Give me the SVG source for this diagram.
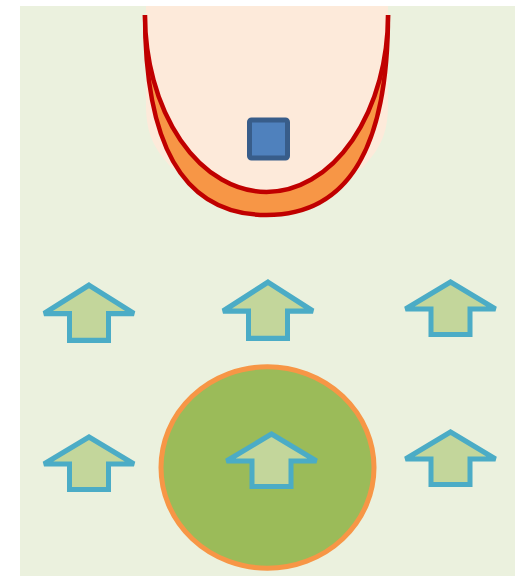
<svg xmlns="http://www.w3.org/2000/svg" width="517" height="576" viewBox="0 0 517 576">
  <style>
    .arrow { fill: #C3D69B; stroke: #4BACC6; stroke-width: 5; stroke-linejoin: miter; stroke-miterlimit: 2; }
    .cup { stroke: #C00000; stroke-width: 4.5; }
  </style>
  <defs>
    <!-- up arrow, origin at the outer tip -->
    <path id="up-arrow" class="arrow" d="M0,3 L45,30 L19.5,30 L19.5,55.5 L-19.5,55.5 L-19.5,30 L-45,30 Z"/>
  </defs>

  <!-- page background -->
  <rect x="20" y="6" width="495" height="570" fill="#EBF1DE"/>

  <!-- cup shape at the top -->
  <g id="cup">
    <path d="M146,6 V105 C146,135 155,150 172,168 L267,200 L362,168 C379,150 388,135 388,105 V6 Z" fill="#FDEADA"/>
    <path class="cup" d="M145,15 C145,140 180,215 266.5,215 C353,215 388,140 388,15" fill="#F79646"/>
    <path class="cup" d="M145,15 A121.5,177 0 0 0 388,15" fill="#FDEADA"/>
  </g>

  <!-- blue square -->
  <g id="square">
    <rect x="249.5" y="120" width="38" height="38" rx="2" fill="#4F81BD" stroke="#385D8A" stroke-width="5"/>
  </g>

  <!-- green disc -->
  <g id="disc">
    <ellipse cx="267.5" cy="467.5" rx="106.5" ry="100.7" fill="#9BBB59" stroke="#F79646" stroke-width="5"/>
  </g>

  <!-- arrows -->
  <g id="arrow-1"><use href="#up-arrow" transform="translate(89,282) scale(1,1.05)"/></g>
  <g id="arrow-2"><use href="#up-arrow" transform="translate(268,279) scale(1,1.07)"/></g>
  <g id="arrow-3"><use href="#up-arrow" transform="translate(450.5,279)"/></g>
  <g id="arrow-4"><use href="#up-arrow" transform="translate(89,434)"/></g>
  <g id="arrow-5"><use href="#up-arrow" transform="translate(450.5,429)"/></g>
  <g id="arrow-6"><use href="#up-arrow" transform="translate(271.5,431)"/></g>

  <g id="connectors"></g>
</svg>
